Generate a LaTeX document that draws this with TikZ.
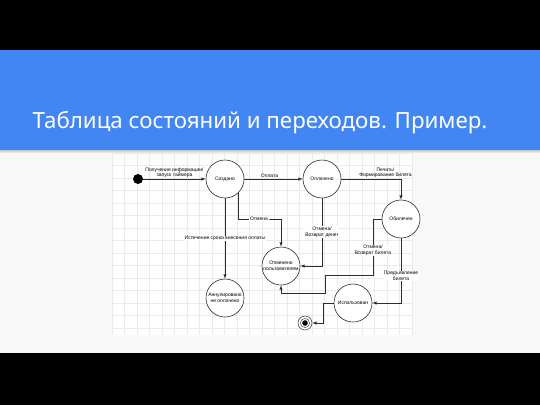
\documentclass[tikz,border=0pt]{standalone}
\usepackage{fontspec}
\setmainfont{Liberation Sans}
\newfontfamily\titlefont{Noto Sans}
\usetikzlibrary{arrows}
\definecolor{slideblue}{RGB}{66,134,244}
\definecolor{pagecol}{RGB}{248,248,248}
\definecolor{gridcol}{RGB}{234,234,234}
\definecolor{strokecol}{RGB}{45,45,45}
\tikzset{
  state/.style={circle,draw=strokecol,fill=white,line width=0.6pt,minimum size=38pt,
    inner sep=0pt,align=center,font=\fontsize{5}{5.6}\selectfont},
  startstate/.style={circle,fill=black,minimum size=10pt,inner sep=0pt},
  endstate/.style={circle,draw=strokecol,fill=white,line width=0.5pt,minimum size=14pt,inner sep=0pt,
    path picture={\fill[black] (path picture bounding box.center) circle (2.8pt);
      \draw[strokecol,line width=0.4pt] (path picture bounding box.center) circle (4.6pt);}},
  trans/.style={->,draw=strokecol,line width=0.5pt},
  lbl/.style={fill=white,inner sep=0.7pt,align=center,font=\fontsize{5}{5.6}\selectfont},
  toplbl/.style={above,inner sep=1pt,align=center,font=\fontsize{5}{5.6}\selectfont},
}
\begin{document}
\begin{tikzpicture}[>=latex,x=1pt,y=-1pt]
\useasboundingbox (0,0) rectangle (540,405);
  % Slide
  \fill[black] (0,0) rectangle (540,405);
  \fill[pagecol] (0,150) rectangle (540,353);
  \fill[slideblue] (0,50) rectangle (540,150);
  \shade[top color=gray!45,bottom color=pagecol] (0,150) rectangle (540,153);
  \node[anchor=base,text=white,font=\titlefont\fontsize{22.3}{26}\selectfont] (title) at (260,128)
    {Таблица состояний и переходов. Пример.};
  % Grid
  \fill[white] (112,153) rectangle (412,335);
  \foreach \gx in {112,124.5,...,412} \draw[gridcol,line width=0.4pt] (\gx,153) -- (\gx,335);
  \foreach \gy in {153,165.5,...,335} \draw[gridcol,line width=0.4pt] (112,\gy) -- (412,\gy);
  % Node: start
  \node[startstate] (start) at (138,179) {};
  % Node: created
  \node[state] (created) at (225,179) {Создано};
  % Node: paid
  \node[state] (paid) at (322,179) {Оплачено};
  % Node: ticketed
  \node[state] (ticketed) at (401,219) {Обилечен};
  % Node: cancelled
  \node[state] (cancelled) at (281,266) {Отменено\\пользователем};
  % Node: annulled
  \node[state] (annulled) at (225,298) {Аннулировано\\не оплачено};
  % Node: used
  \node[state] (used) at (353,303) {Использован};
  % Node: final
  \node[endstate] (final) at (305,323) {};
  % Bends
  \coordinate (c1) at (259,219);
  \coordinate (t1) at (373,275);
  \coordinate (t2) at (325,293);
  \coordinate (f1) at (323,323);
  % Edge: start -> created
  \draw[trans] (start) -- (created) node[midway,toplbl] {Получение информации/\\запуск таймера};
  % Edge: created -> paid
  \draw[trans] (created) -- (paid) node[midway,toplbl,xshift=-4pt] {Оплата};
  % Edge: paid -> ticketed
  \draw[trans] (paid) -| node[pos=0.37,toplbl] {Печать/\\Формирование билета} (ticketed);
  % Edge: created -> cancelled
  \draw[trans] (created.-47) |- (c1) node[lbl] {Отмена} -| (cancelled);
  % Edge: created -> annulled
  \draw[trans] (created) -- (annulled) node[midway,lbl] {Истечение срока внесения оплаты};
  % Edge: paid -> cancelled
  \draw[trans] (paid) |- node[pos=0.25,lbl] {Отмена/\\Возврат денег} (cancelled);
  % Edge: ticketed -> cancelled
  \draw[trans] (ticketed) -| node[pos=0.78,lbl] {Отмена/\\Возврат билета} (t1) -| (t2) -| (cancelled);
  % Edge: ticketed -> used
  \draw[trans] (ticketed) |- node[pos=0.29,lbl] {Предъявление\\билета} (used);
  % Edge: used -> final
  \draw[trans] (used) -| (f1) -- (final);
\end{tikzpicture}
\end{document}
